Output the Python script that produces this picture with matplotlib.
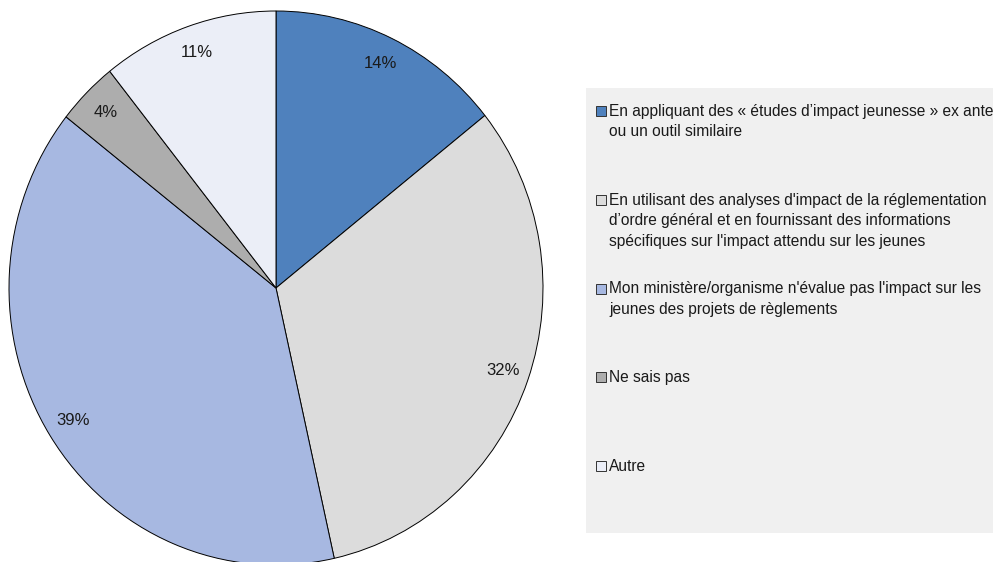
import matplotlib.pyplot as plt
from matplotlib.patches import Rectangle

plt.rcParams['font.family'] = ['Liberation Sans', 'DejaVu Sans']

# Données
categories = ["En appliquant des « études d’impact jeunesse » ex ante\nou un outil similaire",
              "En utilisant des analyses d'impact de la réglementation\nd’ordre général et en fournissant des informations\nspécifiques sur l'impact attendu sur les jeunes",
              "Mon ministère/organisme n'évalue pas l'impact sur les\njeunes des projets de règlements",
              "Ne sais pas",
              "Autre"]
values = [14.3, 32.2, 39.1, 3.7, 10.7]
colors = ['#4F81BD', '#DCDCDC', '#A7B8E1', '#ADADAD', '#EBEEF7']

W, H = 993, 562
fig = plt.figure(figsize=(W/100, H/100), dpi=100)

# camembert (légèrement elliptique comme l'original)
cx, cy, rx, ry = 276, 288, 267, 277
ax = fig.add_axes([(cx-rx)/W, (H-cy-ry)/H, 2*rx/W, 2*ry/H])
wedges, texts, autotexts = ax.pie(values, colors=colors, startangle=90, counterclock=False,
                                  autopct='%.0f%%', pctdistance=0.9, radius=1,
                                  wedgeprops=dict(edgecolor='black', linewidth=0.7),
                                  textprops=dict(fontsize=12, color='#1a1a1a'))
ax.set_aspect('auto')
ax.set_xlim(-1, 1)
ax.set_ylim(-1, 1)
ax.axis('off')

# Légende (boîte grise)
lx0, ly0, ly1 = 586, 88, 533
fig.patches.append(Rectangle((lx0/W, 1-ly1/H), (W-lx0)/W, (ly1-ly0)/H,
                             transform=fig.transFigure, facecolor='#F0F0F0',
                             edgecolor='none', zorder=0))
ypos = [112, 200.75, 289.5, 378.25, 467]
for lab, col, y in zip(categories, colors, ypos):
    fig.patches.append(Rectangle((596/W, 1-(y+4)/H), 10/W, 10/H,
                                 transform=fig.transFigure, facecolor=col,
                                 edgecolor='#333333', linewidth=0.7, zorder=2))
    fig.text(609/W, 1-(y-8)/H, lab, fontsize=11.2, color='#1a1a1a', va='top',
             ha='left', linespacing=1.45)

fig.savefig('out.png', dpi=100)
